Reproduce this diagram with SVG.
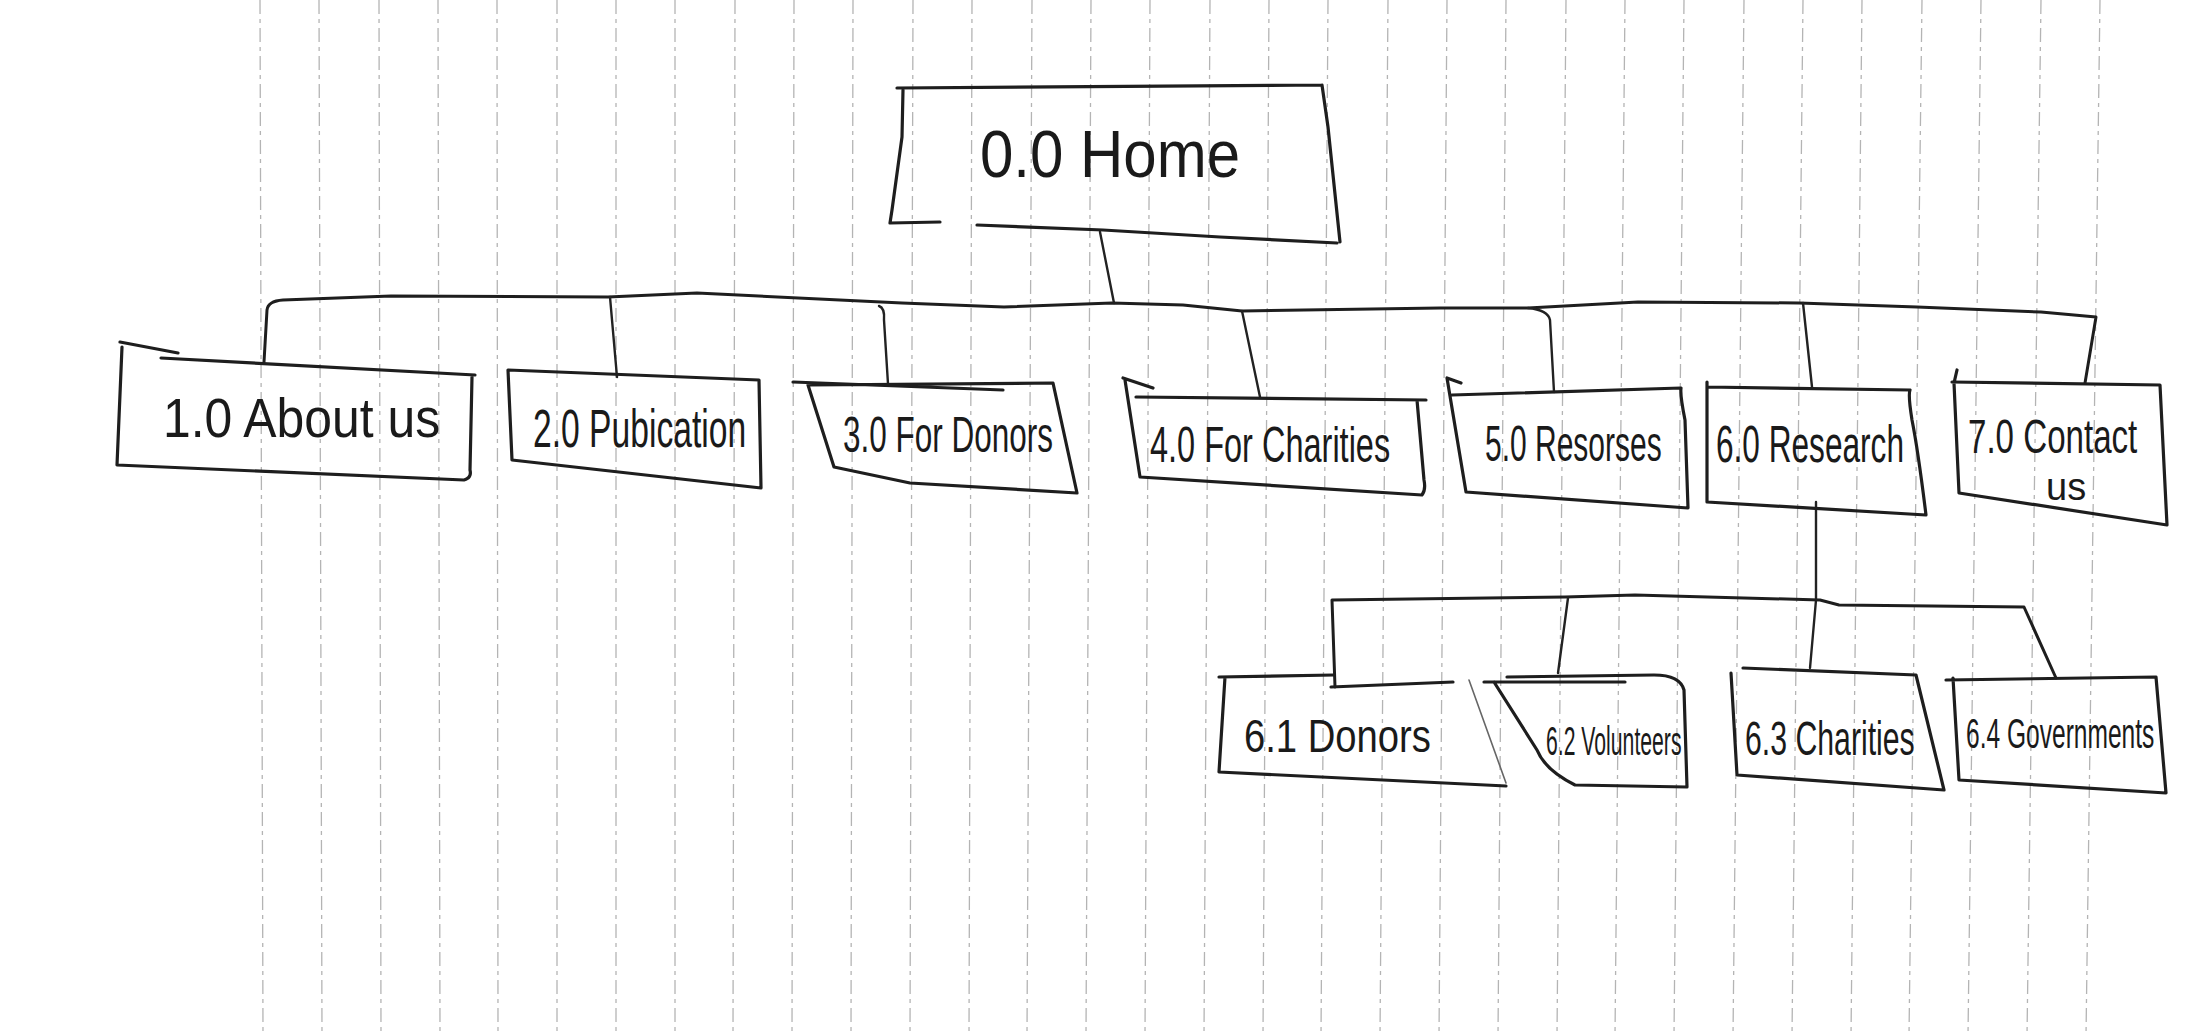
<svg xmlns="http://www.w3.org/2000/svg" width="2200" height="1036" viewBox="0 0 2200 1036">
<style>
.paper{stroke:#b4b4b4;stroke-width:1.3;stroke-dasharray:14 5 4 5;fill:none}
.box{fill:none;stroke:#1e1e1e;stroke-width:3.2;stroke-linecap:round;stroke-linejoin:round}
.thin{fill:none;stroke:#666;stroke-width:1.6;stroke-linecap:round}
.conn{fill:none;stroke:#222;stroke-width:2.4;stroke-linecap:round;stroke-linejoin:round}
.bus{fill:none;stroke:#1e1e1e;stroke-width:3;stroke-linecap:round;stroke-linejoin:round}
.lbl{font-family:"Liberation Sans","DejaVu Sans",sans-serif;fill:#1a1a1a}
</style>
<rect width="2200" height="1036" fill="#ffffff"/>
<g id="paper-lines">
<path class="paper" d="M260 0L263 1036M319 0L322 1036M379 0L381 1036M438 0L440 1036M497 0L498 1036M557 0L557 1036M616 0L616 1036M675 0L675 1036M735 0L733 1036M794 0L792 1036M853 0L851 1036M913 0L910 1036M972 0L969 1036M1032 0L1027 1036M1091 0L1086 1036M1150 0L1145 1036M1210 0L1204 1036M1269 0L1263 1036M1328 0L1321 1036M1388 0L1380 1036M1447 0L1439 1036M1506 0L1498 1036M1566 0L1557 1036M1625 0L1615 1036M1684 0L1674 1036M1744 0L1733 1036M1803 0L1792 1036M1862 0L1851 1036M1922 0L1909 1036M1981 0L1968 1036M2041 0L2027 1036M2100 0L2086 1036"/>
</g>
<g id="connectors">
<path class="conn" d="M1100 232 L1114 303"/>
<path class="bus" d="M264 362 L267 310 Q268 301 283 300 L391 296 L608 297 L697 293 L902 303 L1004 307 L1112 303 L1183 305 L1242 311 L1440 308 L1528 308 L1638 302 L1799 303 L1917 307 L2041 312 L2096 317 L2085 383"/>
<path class="conn" d="M610 297 L617 377"/>
<path class="conn" d="M879 306 Q885 308 884 320 L888 384"/>
<path class="conn" d="M1242 311 L1260 397"/>
<path class="conn" d="M1528 308 Q1548 310 1550 320 L1554 392"/>
<path class="conn" d="M1803 303 L1812 387"/>
<path class="conn" d="M1816 502 L1816 600 L1810 668"/>
<path class="bus" d="M1335 687 L1332 600 L1565 597 L1635 595 L1820 600 L1839 605 L2024 607 L2056 678"/>
<path class="conn" d="M1568 598 L1558 673"/>
</g>
<g id="node-home">
<path class="box" d="M897 88 L1322 85 M903 90 L902 137 L892 210 L890 223 L940 222 M977 225 L1103 230 L1220 237 L1337 243 M1322 85 L1328 127 L1340 242"/>
<text class="lbl" font-size="66" transform="translate(980 177) scale(0.909 1)">0.0 Home</text>
</g>
<g id="node-about">
<path class="box" d="M120 342 L178 353 M161 358 L475 375 M122 347 L117 465 L464 480 Q472 478 470 470 M472 377 L470 470"/>
<text class="lbl" font-size="56" transform="translate(163 437) scale(0.89 1)">1.0 About us</text>
</g>
<g id="node-publication">
<path class="box" d="M508 370 L759 380 L761 488 L512 460 Z"/>
<text class="lbl" font-size="54" transform="translate(533 447) scale(0.623 1)">2.0 Pubication</text>
</g>
<g id="node-for-donors">
<path class="box" d="M793 382 L1003 390 M808 385 L1053 383 L1077 493 L910 483 L834 467 Z"/>
<text class="lbl" font-size="50" transform="translate(843 452) scale(0.63 1)">3.0 For Donors</text>
</g>
<g id="node-for-charities">
<path class="box" d="M1123 378 L1153 388 M1136 397 L1426 400 M1125 380 L1140 477 L1422 495 Q1426 490 1424 480 L1417 400"/>
<text class="lbl" font-size="50" transform="translate(1150 462) scale(0.65 1)">4.0 For Charities</text>
</g>
<g id="node-resources">
<path class="box" d="M1447 378 L1461 383 M1447 378 L1466 492 L1688 508 L1685 420 Q1680 395 1681 388 L1452 395"/>
<text class="lbl" font-size="50" transform="translate(1485 461) scale(0.60 1)">5.0 Resorses</text>
</g>
<g id="node-research">
<path class="box" d="M1707 382 L1707 502 L1926 515 Q1918 450 1912 420 Q1908 395 1910 390 L1707 387"/>
<text class="lbl" font-size="52" transform="translate(1716 462) scale(0.608 1)">6.0 Research</text>
</g>
<g id="node-contact">
<path class="box" d="M1957 370 L1954 383 L1959 493 L2167 525 L2160 385 L1952 382"/>
<text class="lbl" font-size="48" transform="translate(1968 453) scale(0.69 1)">7.0 Contact</text>
<text class="lbl" font-size="38" transform="translate(2046 500) scale(1 1)">us</text>
</g>
<g id="node-6-1-donors">
<path class="box" d="M1219 677 L1334 675 M1331 687 L1453 682 M1225 677 L1219 772 L1506 786"/>
<path class="thin" d="M1469 680 L1506 783"/>
<text class="lbl" font-size="46" transform="translate(1244 752) scale(0.831 1)">6.1 Donors</text>
</g>
<g id="node-6-2-volunteers">
<path class="box" d="M1484 682 L1625 682 M1507 677 L1654 675 Q1680 675 1684 690 L1687 787 L1575 785 Q1545 770 1537 750 L1494 682"/>
<text class="lbl" font-size="40" transform="translate(1546 755) scale(0.53 1)">6.2 Volunteers</text>
</g>
<g id="node-6-3-charities">
<path class="box" d="M1743 668 L1916 675 L1944 790 L1737 775 L1731 673"/>
<text class="lbl" font-size="48" transform="translate(1745 755) scale(0.63 1)">6.3 Charities</text>
</g>
<g id="node-6-4-governments">
<path class="box" d="M1946 680 L2156 677 L2166 793 L1959 780 L1953 678"/>
<text class="lbl" font-size="42" transform="translate(1966 748) scale(0.585 1)">6.4 Governments</text>
</g>
</svg>
